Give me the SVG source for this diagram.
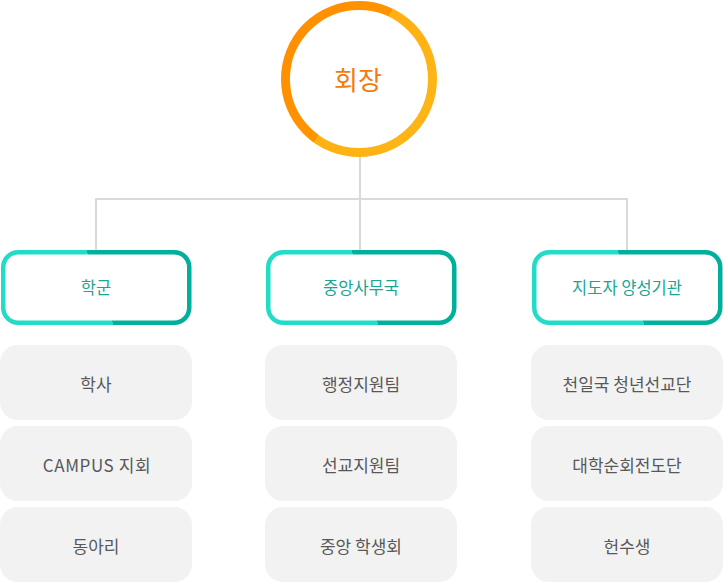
<svg xmlns="http://www.w3.org/2000/svg" width="723" height="583" viewBox="0 0 723 583">
<style>
.t{font-family:"Noto Sans CJK KR","Noto Sans",sans-serif;text-anchor:middle;dominant-baseline:central}
.head{fill:#ffffff;stroke:url(#teal);stroke-width:4.5}
.sub{fill:#f2f2f2}
.ht{font-size:16.5px;fill:#17a694}
.st{font-size:17px;fill:#585858}
.conn{fill:none;stroke:#d9d9d9;stroke-width:2}
</style>
<defs>
<linearGradient id="teal" x1="0" y1="0.568" x2="1" y2="0.432">
<stop offset="0" stop-color="#22dcc8"/>
<stop offset="0.52" stop-color="#22dcc8"/>
<stop offset="0.52" stop-color="#00b09b"/>
<stop offset="1" stop-color="#00b09b"/>
</linearGradient>
<linearGradient id="orange" gradientUnits="userSpaceOnUse" x1="290" y1="32" x2="422" y2="110">
<stop offset="0" stop-color="#ff8f00"/>
<stop offset="0.5" stop-color="#ff9400"/>
<stop offset="0.5" stop-color="#ffb012"/>
<stop offset="1" stop-color="#fdb515"/>
</linearGradient>
</defs>
<g id="connectors">
<path class="conn" d="M360 157V250M96 250V199H627V250"/>
</g>
<g id="president">
<circle cx="359" cy="79" r="73.5" fill="#ffffff" stroke="url(#orange)" stroke-width="9"/>
<text class="t" x="358" y="78" font-size="26" fill="#f27b0c">회장</text>
</g>
<g id="hakgun">
<rect class="head" x="3.25" y="252.25" width="186" height="70.5" rx="15"/>
<text class="t ht" x="96" y="287">학군</text>
</g>
<g id="jungang">
<rect class="head" x="268.25" y="252.25" width="186" height="70.5" rx="15"/>
<text class="t ht" x="361" y="287">중앙사무국</text>
</g>
<g id="jidoja">
<rect class="head" x="534.25" y="252.25" width="186" height="70.5" rx="15"/>
<text class="t ht" x="627" y="287">지도자 양성기관</text>
</g>
<g id="haksa"><rect class="sub" x="0" y="345" width="192" height="75" rx="18"/><text class="t st" x="96" y="383">학사</text></g>
<g id="campus"><rect class="sub" x="0" y="426" width="192" height="75" rx="18"/><text class="t st" x="97" y="464" letter-spacing="0.6">CAMPUS 지회</text></g>
<g id="dongari"><rect class="sub" x="0" y="507" width="192" height="75" rx="18"/><text class="t st" x="96" y="545">동아리</text></g>
<g id="haengjeong"><rect class="sub" x="265" y="345" width="192" height="75" rx="18"/><text class="t st" x="361" y="383">행정지원팀</text></g>
<g id="seongyo"><rect class="sub" x="265" y="426" width="192" height="75" rx="18"/><text class="t st" x="361" y="464">선교지원팀</text></g>
<g id="haksaenghoe"><rect class="sub" x="265" y="507" width="192" height="75" rx="18"/><text class="t st" x="361" y="545">중앙 학생회</text></g>
<g id="cheonilguk"><rect class="sub" x="531" y="345" width="192" height="75" rx="18"/><text class="t st" x="627" y="383">천일국 청년선교단</text></g>
<g id="daehak"><rect class="sub" x="531" y="426" width="192" height="75" rx="18"/><text class="t st" x="627" y="464">대학순회전도단</text></g>
<g id="heonsu"><rect class="sub" x="531" y="507" width="192" height="75" rx="18"/><text class="t st" x="627" y="545">헌수생</text></g>
</svg>
